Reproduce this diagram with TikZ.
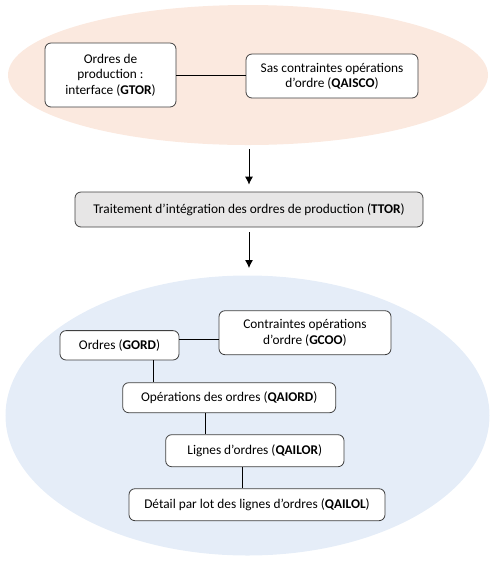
\documentclass[tikz,border=0pt]{standalone}
\usepackage{fontspec}
\setmainfont{Carlito}
\usetikzlibrary{arrows.meta,shapes.geometric}
\definecolor{peach}{HTML}{FBE9DF}
\definecolor{paleblue}{HTML}{E5EDF8}
\definecolor{boxgray}{HTML}{E7E6E6}
\begin{document}
\begin{tikzpicture}[x=0.75pt,y=-0.75pt,
  every node/.style={font=\fontsize{10pt}{11.5pt}\selectfont},
  tbox/.style={draw=black!75, line width=0.6pt, rounded corners=4.5pt, fill=white, align=center, inner sep=0pt},
  link/.style={draw=black, line width=0.6pt},
  flow/.style={draw=black, line width=0.6pt, -{Latex[length=6pt,width=6pt]}}]
\useasboundingbox (0,0) rectangle (495,562);
% ellipses
\node[ellipse, fill=peach, minimum width=360pt, minimum height=105pt, inner sep=0pt] (topell) at (248,75) {};
\node[ellipse, fill=paleblue, minimum width=363pt, minimum height=210pt, inner sep=0pt] (botell) at (247.5,415.5) {};
% top boxes
\node[tbox, minimum width=98.25pt, minimum height=48pt] (gtor) at (110.5,75) {Ordres de\\production :\\interface (\textbf{GTOR})};
\node[tbox, minimum width=129pt, minimum height=33pt] (qaisco) at (332,76) {Sas contraintes opérations\\d’ordre (\textbf{QAISCO})};
\draw[link] (gtor.east) -- (gtor.east -| qaisco.west);
% TTOR
\node[tbox, fill=boxgray, minimum width=261pt, minimum height=26.25pt] (ttor) at (249,209.5) {Traitement d’intégration des ordres de production (\textbf{TTOR})};
\draw[flow, shorten <=3pt, shorten >=5.25pt] (topell.south -| ttor.north) -- (ttor.north);
\coordinate (a2) at (249,268);
\draw[flow, shorten <=3.75pt] (ttor.south) -- (a2);
% bottom boxes
\node[tbox, minimum width=89.25pt, minimum height=22pt] (gord) at (119.5,345.3) {Ordres (\textbf{GORD})};
\node[tbox, minimum width=129pt, minimum height=33pt] (gcoo) at (305,332.7) {Contraintes opérations\\d’ordre (\textbf{GCOO})};
\node[tbox, minimum width=159.75pt, minimum height=22.5pt] (qaiord) at (229.2,397.7) {Opérations des ordres (\textbf{QAIORD})};
\node[tbox, minimum width=133.75pt, minimum height=24pt] (qailor) at (254.85,450.7) {Lignes d’ordres (\textbf{QAILOR})};
\node[tbox, minimum width=192pt, minimum height=24pt] (qailol) at (257,504.7) {Détail par lot des lignes d’ordres (\textbf{QAILOL})};
\coordinate (c1) at (153,0);
\coordinate (c2) at (205.7,0);
\coordinate (c3) at (242.3,0);
\coordinate (c4) at (0,339.3);
\draw[link] (gord.east |- c4) -- (gcoo.west |- c4);
\draw[link] (gord.south -| c1) -- (qaiord.north -| c1);
\draw[link] (qaiord.south -| c2) -- (qailor.north -| c2);
\draw[link] (qailor.south -| c3) -- (qailol.north -| c3);
\end{tikzpicture}
\end{document}
